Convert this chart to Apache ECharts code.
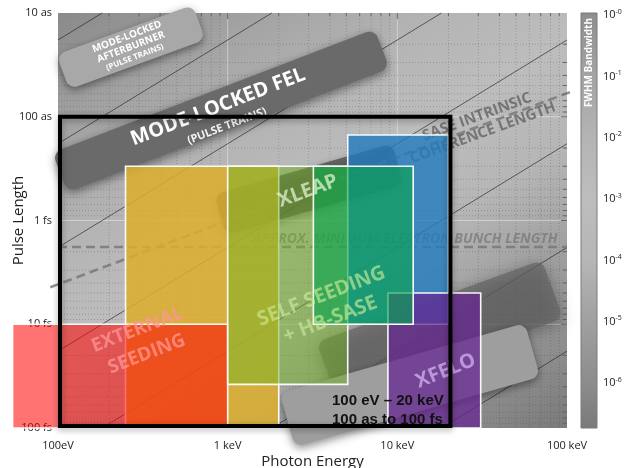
<!DOCTYPE html>
<html><head><meta charset="utf-8">
<script src="https://cdn.jsdelivr.net/npm/echarts@6/dist/echarts.min.js"></script>
<style>html,body{margin:0;padding:0;background:#fff}#c{width:630px;height:468px}</style>
</head><body><div id="c"></div>
<script>
// ---------------- data ----------------
const energyTicks = [100, 1000, 10000, 100000];            // eV
const energyTickLabels = ['100eV', '1 keV', '10 keV', '100 keV'];
const pulseTicks = [0.01, 0.1, 1, 10, 100];                 // fs
const pulseTickLabels = ['10 as', '100 as', '1 fs', '10 fs', '100 fs'];
const bandwidthExponents = [0, -1, -2, -3, -4, -5, -6];     // FWHM bandwidth 10^n
const timeBandwidthProduct = 1.82;                          // eV*fs (transform limit)

const regionNames     = ['Soft X-ray', 'External seeding', 'Self seeding + HB-SASE', 'Hard X-ray', 'XFELO', 'XLEAP'];
const regionEnergyMin = [250, 54, 1000, 5100, 8800, 3200];
const regionEnergyMax = [2000, 1000, 5100, 20000, 31000, 12400];
const regionPulseMin  = [0.3, 10, 0.3, 0.15, 5, 0.3];
const regionPulseMax  = [100, 100, 38, 10, 100, 10];

const targetEnergy = [100, 20000];
const targetPulse  = [0.1, 100];
const targetLabel  = '100 eV \u2013 20 keV\n100 as to 100 fs';

const bunchLengthFs = 1.8;
const coherenceEnergy = [90, 104000];
const coherencePulse  = [4.4, 0.058];

// ---------------- styles / annotations ----------------
const FONT = '"Open Sans", "DejaVu Sans", sans-serif';
const regionFill = ['rgba(221,174,43,0.85)', 'rgba(255,0,0,0.55)', 'rgba(113,177,33,0.5)',
                    'rgba(32,122,190,0.8)', 'rgba(103,39,145,0.75)', 'rgba(9,164,79,0.65)'];
const grayMap = [[0.3,'#8a8a8a'],[0,'#8f8f8f'],[-1,'#a4a4a4'],[-2,'#b4b4b4'],[-3,'#bdbdbd'],
                 [-4,'#b6b6b6'],[-5,'#a0a0a0'],[-6,'#8c8c8c'],[-6.8,'#7a7a7a']];
const decorBands = [
  {e:269, t:0.0213, len:145, wid:37, angle:20, fill:'#a8a8a8', blur:8},
  {e:913, t:0.087, len:345, wid:42, angle:21, fill:'#6a6a6a', blur:10},
  {e:3013, t:0.5, len:185, wid:42, angle:16, fill:'rgba(75,75,75,0.75)', blur:8},
  {e:17800, t:11.4, len:240, wid:62, angle:20, fill:'rgba(100,100,100,0.7)', blur:16},
  {e:11860, t:38.5, len:255, wid:56, angle:16, fill:'#9e9e9e', blur:8}
];
const bgTexts = [
  {e:877, t:0.0805, text:'MODE-LOCKED FEL', font:'bold 20px '+FONT, angle:21, fill:'#ffffff'},
  {e:990, t:0.123, text:'(PULSE TRAINS)', font:'bold 11px '+FONT, angle:21, fill:'#f2f2f2'},
  {e:269, t:0.0213, text:'{a|MODE-LOCKED}\n{a|AFTERBURNER}\n{p|(PULSE TRAINS)}', angle:21, fill:'#ffffff',
   rich:{a:{fontSize:10, fontWeight:'bold', lineHeight:11, fontFamily:FONT, fill:'#fff'},
         p:{fontSize:8, fontWeight:'bold', lineHeight:11, fontFamily:FONT, fill:'#fff'}}},
  {e:30700, t:0.12, text:'SASE INTRINSIC\nCOHERENCE LENGTH', font:'bold 15px '+FONT, angle:20,
   fill:'rgba(105,105,105,0.85)', lineHeight:17}
];
const fgTexts = [
  {e:2970, t:0.52, text:'XLEAP', font:'bold 20px '+FONT, angle:20, fill:'rgba(225,240,205,0.75)'},
  {e:313, t:14.8, text:'EXTERNAL\nSEEDING', font:'bold 19px '+FONT, angle:21, fill:'rgba(255,150,150,0.75)', lineHeight:26},
  {e:3790, t:6.97, text:'SELF SEEDING\n+ HB-SASE', font:'bold 20px '+FONT, angle:21, fill:'rgba(200,235,150,0.65)', lineHeight:25},
  {e:19300, t:28.2, text:'XFELO', font:'bold 20px '+FONT, angle:22, fill:'rgba(205,170,235,0.8)'}
];

const LOG_TBP = Math.log10(timeBandwidthProduct);
const rad = a => a * Math.PI / 180;

function stopsFor(bTop, bBot) {
  return grayMap.map(([b, col]) => ({offset: Math.min(1, Math.max(0, (bTop - b) / (bTop - bBot))), color: col}));
}

function textEl(o, api) {
  const p = api.coord([o.e, o.t]);
  const style = {text: o.text, fill: o.fill, textAlign: o.align || 'center', textVerticalAlign: o.valign || 'middle'};
  if (o.font) style.font = o.font;
  if (o.lineHeight) style.lineHeight = o.lineHeight;
  if (o.rich) style.rich = o.rich;
  return {type:'text', x: p[0] + (o.dx || 0), y: p[1] + (o.dy || 0), rotation: rad(o.angle || 0), style};
}

function renderBackground(params, api) {
  const c = (e, t) => api.coord([e, t]);
  const eMin = energyTicks[0], eMax = energyTicks[energyTicks.length - 1];
  const tMin = pulseTicks[0], tMax = pulseTicks[pulseTicks.length - 1];
  const tl = c(eMin, tMin), br = c(eMax, tMax);
  const pxX = c(eMin * 10, tMin)[0] - tl[0];
  const pxY = c(eMin, tMin * 10)[1] - tl[1];
  const gx = 1 / pxX, gy = 1 / pxY, rate = Math.hypot(gx, gy);
  const b0 = LOG_TBP - Math.log10(eMin * tMin), b1 = LOG_TBP - Math.log10(eMax * tMax);
  const L = (b0 - b1) / rate;
  const grad = new echarts.graphic.LinearGradient(tl[0], tl[1], tl[0] + gx / rate * L, tl[1] + gy / rate * L, stopsFor(b0, b1), true);
  const ch = [{type:'rect', shape:{x:tl[0], y:tl[1], width:br[0]-tl[0], height:br[1]-tl[1]}, style:{fill:grad}}];

  // grid lines
  for (let d = Math.round(Math.log10(eMin)); d < Math.log10(eMax); d++) {
    for (let m = 1; m <= 9; m++) {
      const E = m * Math.pow(10, d);
      if (m === 1 && d === Math.round(Math.log10(eMin))) continue;
      const x = c(E, tMin)[0];
      ch.push({type:'line', shape:{x1:x, y1:tl[1], x2:x, y2:br[1]},
        style: m === 1 ? {stroke:'rgba(255,255,255,0.4)', lineWidth:1} : {stroke:'rgba(70,70,70,0.3)', lineWidth:1, lineDash:[1,2]}});
      ch.push({type:'line', shape:{x1:x, y1:tl[1], x2:x, y2:tl[1] + (m === 1 ? 6 : 3)}, style:{stroke:'#666', lineWidth:1}});
    }
  }
  for (let d = Math.round(Math.log10(tMin)); d < Math.log10(tMax); d++) {
    for (let m = 1; m <= 9; m++) {
      const T = m * Math.pow(10, d);
      if (m === 1 && d === Math.round(Math.log10(tMin))) continue;
      const y = c(eMin, T)[1];
      ch.push({type:'line', shape:{x1:tl[0], y1:y, x2:br[0], y2:y},
        style: m === 1 ? {stroke:'rgba(255,255,255,0.4)', lineWidth:1} : {stroke:'rgba(70,70,70,0.3)', lineWidth:1, lineDash:[1,2]}});
      ch.push({type:'line', shape:{x1:br[0] - (m === 1 ? 6 : 4), y1:y, x2:br[0], y2:y}, style:{stroke:'#666', lineWidth:1}});
    }
  }
  // constant-bandwidth diagonals
  bandwidthExponents.forEach(n => {
    const a = LOG_TBP - n;
    const lo = Math.max(Math.log10(eMin), a - Math.log10(tMax));
    const hi = Math.min(Math.log10(eMax), a - Math.log10(tMin));
    if (lo < hi) {
      const p1 = c(Math.pow(10, lo), Math.pow(10, a - lo)), p2 = c(Math.pow(10, hi), Math.pow(10, a - hi));
      ch.push({type:'line', shape:{x1:p1[0], y1:p1[1], x2:p2[0], y2:p2[1]}, style:{stroke:'rgba(30,30,30,0.8)', lineWidth:0.8}});
    }
  });
  // decorative bands
  decorBands.forEach(b => {
    const p = c(b.e, b.t);
    ch.push({type:'rect', x:p[0], y:p[1], rotation:rad(b.angle),
      shape:{x:-b.len/2, y:-b.wid/2, width:b.len, height:b.wid, r:9},
      style:{fill:b.fill, shadowBlur:b.blur, shadowColor:'rgba(0,0,0,0.45)', shadowOffsetY:3}});
  });
  // dashed reference lines
  const dashStyle = {stroke:'rgba(118,118,118,0.8)', lineWidth:2.6, lineDash:[9,5], fill:null};
  ch.push({type:'polyline', shape:{points:[c(eMin, bunchLengthFs), c(eMax, bunchLengthFs)]}, style:dashStyle});
  ch.push({type:'polyline', shape:{points:coherenceEnergy.map((e, i) => c(e, coherencePulse[i]))}, style:dashStyle});
  bgTexts.forEach(o => ch.push(textEl(o, api)));
  ch.push(textEl({e: eMax * 0.88, t: bunchLengthFs, text:'APPROX. MINIMUM ELECTRON BUNCH LENGTH',
    font:'italic bold 14px ' + FONT, fill:'rgba(120,120,120,0.75)', align:'right', valign:'bottom', dy:-1}, api));
  return {type:'group', children: ch};
}

function renderRegion(params, api) {
  const p1 = api.coord([api.value(0), api.value(2)]);
  const p2 = api.coord([api.value(1), api.value(3)]);
  const i = api.value(4);
  return {type:'rect', shape:{x:Math.min(p1[0],p2[0]), y:Math.min(p1[1],p2[1]), width:Math.abs(p2[0]-p1[0]), height:Math.abs(p2[1]-p1[1])},
    style:{fill:regionFill[i], stroke:'rgba(255,255,255,0.95)', lineWidth:1.6}};
}

function renderOverlay(params, api) {
  const ch = fgTexts.map(o => textEl(o, api));
  const a = api.coord([targetEnergy[0], targetPulse[0]]), b = api.coord([targetEnergy[1], targetPulse[1]]);
  ch.push({type:'rect', shape:{x:a[0]+2, y:a[1], width:b[0]-a[0], height:b[1]-a[1]-2},
    style:{fill:null, stroke:'#000', lineWidth:4, shadowBlur:6, shadowColor:'rgba(0,0,0,0.35)', shadowOffsetY:2}});
  ch.push(textEl({e:4120, t:67, text:targetLabel, font:'bold 15px "Liberation Sans", Arial, sans-serif',
    fill:'#111', align:'left', lineHeight:19}, api));
  return {type:'group', children: ch};
}

function renderColorbar(params, api) {
  const yMax = 0.033, yMin = -6.73;
  const top = api.coord([0, yMax]), bot = api.coord([1, yMin]);
  const grad = new echarts.graphic.LinearGradient(0, top[1], 0, bot[1], stopsFor(yMax, yMin), true);
  return {type:'group', children:[
    {type:'rect', shape:{x:top[0], y:top[1], width:bot[0]-top[0], height:bot[1]-top[1]},
     style:{fill:grad, stroke:'#7a7a7a', lineWidth:1}},
    {type:'text', x:(top[0]+bot[0])/2, y:top[1]+5, rotation:Math.PI/2,
     style:{text:'FWHM Bandwidth', fill:'#fff', font:'bold 10px ' + FONT, textAlign:'right', textVerticalAlign:'middle'}}
  ]};
}

const chart = echarts.init(document.getElementById('c'));
chart.setOption({
  animation: false,
  grid: [
    {left:58, right:63, top:13, bottom:40, containLabel:false, outerBoundsMode:'none'},
    {left:581, width:16, top:13, bottom:40, containLabel:false, outerBoundsMode:'none'}
  ],
  xAxis: [
    {type:'log', gridIndex:0, logBase:10, min:energyTicks[0], max:energyTicks[energyTicks.length-1],
     axisLine:{show:false}, axisTick:{show:false}, splitLine:{show:false},
     axisLabel:{margin:12, fontSize:11, color:'#222', fontFamily:FONT,
       formatter: v => { const i = energyTicks.findIndex(t => Math.abs(Math.log10(t) - Math.log10(v)) < 1e-6); return i >= 0 ? energyTickLabels[i] : ''; }},
     name:'Photon Energy', nameLocation:'middle', nameGap:26, nameMoveOverlap:false,
     nameTextStyle:{fontSize:15, color:'#222', fontFamily:FONT}},
    {type:'value', gridIndex:1, min:0, max:1, show:false}
  ],
  yAxis: [
    {type:'log', gridIndex:0, logBase:10, min:pulseTicks[0], max:pulseTicks[pulseTicks.length-1], inverse:true,
     axisLine:{show:false}, axisTick:{show:false}, splitLine:{show:false},
     axisLabel:{margin:6, fontSize:11, color:'#222', fontFamily:FONT,
       formatter: v => { const i = pulseTicks.findIndex(t => Math.abs(Math.log10(t) - Math.log10(v)) < 1e-6); return i >= 0 ? pulseTickLabels[i] : ''; }},
     name:'Pulse Length', nameLocation:'middle', nameGap:32, nameRotate:90, nameMoveOverlap:false,
     nameTextStyle:{fontSize:15, color:'#222', fontFamily:FONT}},
    {type:'value', gridIndex:1, min:-6.73, max:0.033, position:'right',
     axisLine:{show:false}, splitLine:{show:false},
     axisTick:{show:true, customValues:bandwidthExponents, length:3, lineStyle:{color:'#888'}},
     axisLabel:{customValues:bandwidthExponents, margin:6, color:'#222',
       formatter: v => '{b|10}{s|-' + Math.abs(Math.round(v)) + '}',
       rich:{b:{fontSize:11, fontFamily:FONT, color:'#222'}, s:{fontSize:7, fontFamily:FONT, color:'#222', padding:[0,0,7,0]}}}}
  ],
  series: [
    {type:'custom', name:'background', xAxisIndex:0, yAxisIndex:0, silent:true, z:1,
     data:[[1000, 1]], encode:{x:0, y:1}, renderItem: renderBackground},
    {type:'custom', name:'regions', xAxisIndex:0, yAxisIndex:0, silent:true, z:2, clip:false,
     data: regionNames.map((n, i) => [regionEnergyMin[i], regionEnergyMax[i], regionPulseMin[i], regionPulseMax[i], i]),
     encode:{x:[0,1], y:[2,3]}, renderItem: renderRegion},
    {type:'custom', name:'overlay', xAxisIndex:0, yAxisIndex:0, silent:true, z:3,
     data:[[1000, 1]], encode:{x:0, y:1}, renderItem: renderOverlay},
    {type:'custom', name:'colorbar', xAxisIndex:1, yAxisIndex:1, silent:true, z:1,
     data:[[0.5, -3]], encode:{x:0, y:1}, renderItem: renderColorbar}
  ]
});
</script></body></html>
